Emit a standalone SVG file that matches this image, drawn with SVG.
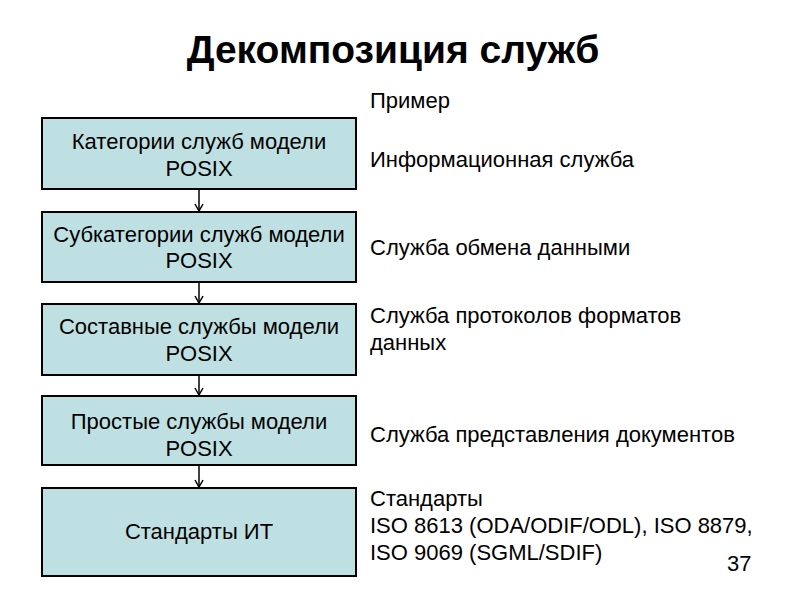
<svg xmlns="http://www.w3.org/2000/svg" width="800" height="600" viewBox="0 0 800 600">
<style>
.box{fill:#bfe0e2;stroke:#000;stroke-width:2}
.bt{font-family:"Liberation Sans",Arial,sans-serif;font-size:22px;fill:#000;text-anchor:middle}
.rt{font-family:"Liberation Sans",Arial,sans-serif;font-size:22px;fill:#000}
.con{stroke:#000;stroke-width:1.5;fill:none}
</style>
<defs>
<marker id="ah" markerWidth="12" markerHeight="12" refX="8" refY="5" orient="auto" markerUnits="userSpaceOnUse">
<path d="M1,1 L8,5 L1,9" fill="none" stroke="#000" stroke-width="1.5"/>
</marker>
</defs>
<rect width="800" height="600" fill="#fff"/>
<text x="393" y="63" font-family="Liberation Sans,Arial,sans-serif" font-size="39" font-weight="bold" text-anchor="middle">Декомпозиция служб</text>
<g id="connectors">
<line class="con" x1="199" y1="190" x2="199" y2="211" marker-end="url(#ah)"/>
<line class="con" x1="199" y1="283" x2="199" y2="303" marker-end="url(#ah)"/>
<line class="con" x1="199" y1="376" x2="199" y2="395" marker-end="url(#ah)"/>
<line class="con" x1="199" y1="466" x2="199" y2="487" marker-end="url(#ah)"/>
</g>
<g id="n1"><rect class="box" x="42" y="118" width="314" height="71"/>
<text class="bt" x="199" y="149">Категории служб модели</text><text class="bt" x="199" y="176">POSIX</text></g>
<g id="n2"><rect class="box" x="42" y="212" width="314" height="70"/>
<text class="bt" x="199" y="242">Субкатегории служб модели</text><text class="bt" x="199" y="268">POSIX</text></g>
<g id="n3"><rect class="box" x="42" y="304" width="314" height="71"/>
<text class="bt" x="199" y="334">Составные службы модели</text><text class="bt" x="199" y="361">POSIX</text></g>
<g id="n4"><rect class="box" x="42" y="396" width="314" height="69"/>
<text class="bt" x="199" y="429">Простые службы модели</text><text class="bt" x="199" y="456">POSIX</text></g>
<g id="n5"><rect class="box" x="42" y="488" width="314" height="88"/>
<text class="bt" x="199" y="539">Стандарты ИТ</text></g>
<g id="labels">
<text class="rt" x="370" y="108">Пример</text>
<text class="rt" x="370" y="167">Информационная служба</text>
<text class="rt" x="370" y="255">Служба обмена данными</text>
<text class="rt" x="370" y="323">Служба протоколов форматов</text>
<text class="rt" x="370" y="350">данных</text>
<text class="rt" x="370" y="442">Служба представления документов</text>
<text class="rt" x="370" y="506">Стандарты</text>
<text class="rt" x="370" y="533">ISO 8613 (ODA/ODIF/ODL), ISO 8879,</text>
<text class="rt" x="370" y="560">ISO 9069 (SGML/SDIF)</text>
<text class="rt" x="727" y="571">37</text>
</g>
</svg>
